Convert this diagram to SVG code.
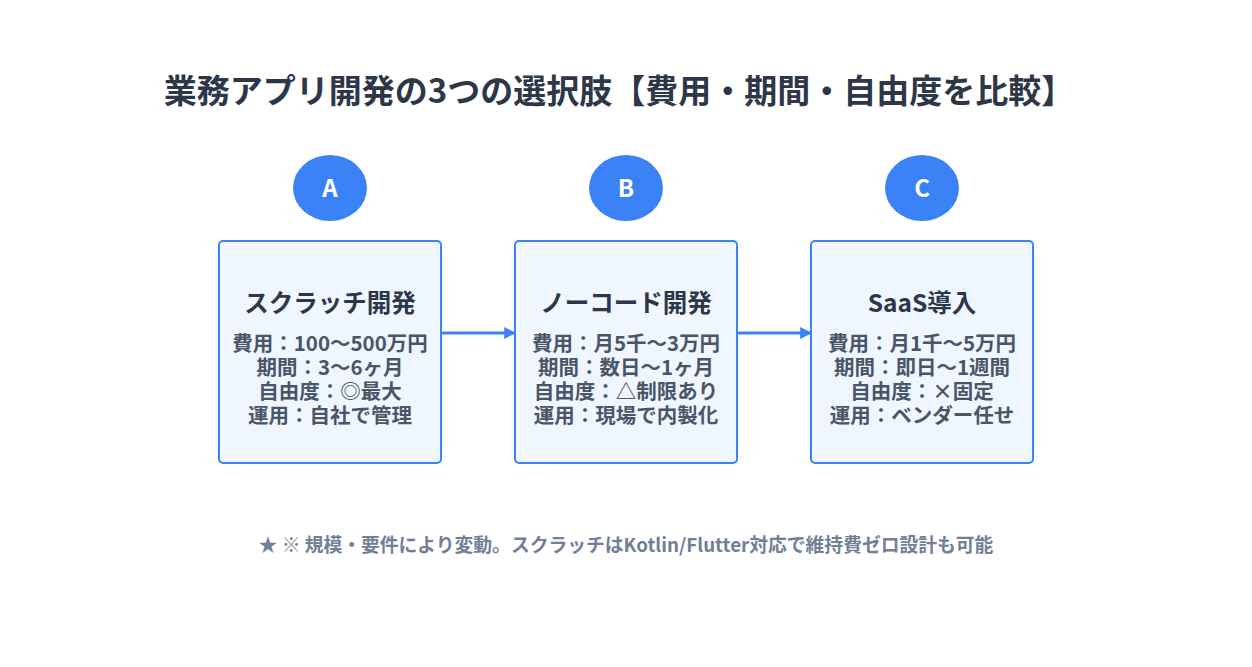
<svg xmlns="http://www.w3.org/2000/svg" width="1252" height="667" viewBox="0 0 1252 667">
<style>
text{font-family:"Noto Sans CJK JP","Noto Sans",sans-serif;font-weight:bold;text-anchor:middle}
.t{font-size:33px;fill:#2d3748}
.b{fill:#eff6ff;stroke:#3b82f6;stroke-width:2}
.c{fill:#3b82f6}
.cl{font-size:24px;fill:#fff}
.h{font-size:24.5px;fill:#2d3748}
.l{font-size:20.5px;fill:#4a5568}
.f{font-size:18.8px;fill:#718096}
.e{stroke:#3b82f6;stroke-width:3;fill:none;marker-end:url(#a)}
</style>
<defs><marker id="a" viewBox="0 0 10 10" refX="9" refY="5" markerWidth="4" markerHeight="4" orient="auto"><path d="M0,0L10,5L0,10z" fill="#3b82f6"/></marker></defs>
<rect width="1252" height="667" fill="#fff"/>
<text class="t" x="619" y="103">業務アプリ開発の3つの選択肢【費用・期間・自由度を比較】</text>
<g id="edges">
<line class="e" x1="441" y1="333" x2="515" y2="333"/>
<line class="e" x1="737" y1="333" x2="811" y2="333"/>
</g>
<g id="A"><ellipse class="c" cx="330" cy="188" rx="37" ry="33"/><text class="cl" x="330" y="197">A</text>
<rect class="b" x="219" y="241" width="222" height="222" rx="4"/>
<text class="h" x="330" y="312">スクラッチ開発</text>
<text class="l" x="330" y="351">費用：100〜500万円</text><text class="l" x="330" y="375">期間：3〜6ヶ月</text><text class="l" x="330" y="399">自由度：◎最大</text><text class="l" x="330" y="423">運用：自社で管理</text></g>
<g id="B"><ellipse class="c" cx="626" cy="188" rx="37" ry="33"/><text class="cl" x="626" y="197">B</text>
<rect class="b" x="515" y="241" width="222" height="222" rx="4"/>
<text class="h" x="626" y="312">ノーコード開発</text>
<text class="l" x="626" y="351">費用：月5千〜3万円</text><text class="l" x="626" y="375">期間：数日〜1ヶ月</text><text class="l" x="626" y="399">自由度：△制限あり</text><text class="l" x="626" y="423">運用：現場で内製化</text></g>
<g id="C"><ellipse class="c" cx="922" cy="188" rx="37" ry="33"/><text class="cl" x="922" y="197">C</text>
<rect class="b" x="811" y="241" width="222" height="222" rx="4"/>
<text class="h" x="922" y="312">SaaS導入</text>
<text class="l" x="922" y="351">費用：月1千〜5万円</text><text class="l" x="922" y="375">期間：即日〜1週間</text><text class="l" x="922" y="399">自由度：×固定</text><text class="l" x="922" y="423">運用：ベンダー任せ</text></g>
<text class="f" x="626" y="552">★ ※ 規模・要件により変動。スクラッチはKotlin/Flutter対応で維持費ゼロ設計も可能</text>
</svg>
